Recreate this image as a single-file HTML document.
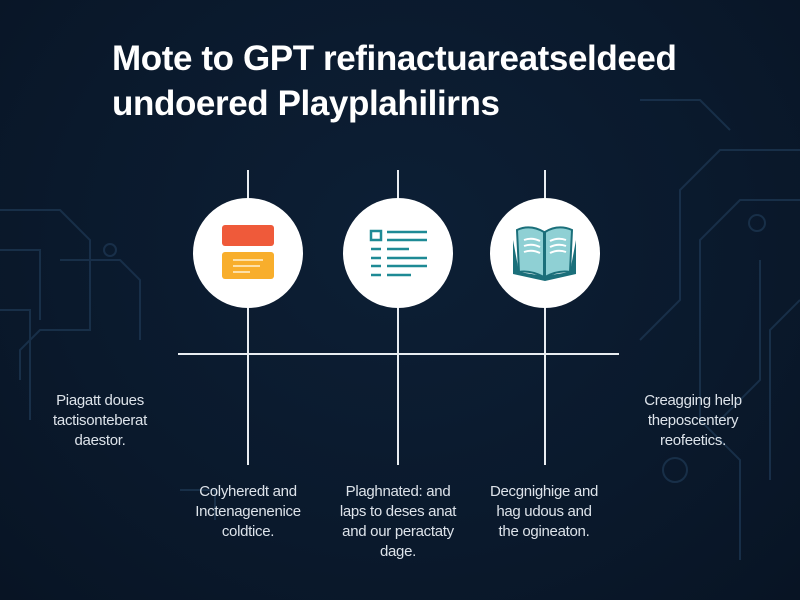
<!DOCTYPE html>
<html><head><meta charset="utf-8"><style>
html,body{margin:0;padding:0}
body{width:800px;height:600px;overflow:hidden;position:relative;background:radial-gradient(ellipse at 50% 40%,#0d1f35 0%,#0a192c 60%,#081424 100%);font-family:"Liberation Sans",sans-serif}
.t{position:absolute;left:112px;color:#fff;font-weight:bold;font-size:35px;letter-spacing:-0.4px;white-space:nowrap}
.p{position:absolute;color:#dde3ea;font-size:15px;line-height:20px;text-align:center;white-space:nowrap;letter-spacing:-0.3px}
</style></head><body>
<svg width="800" height="600" style="position:absolute;left:0;top:0">
 <g stroke="#1c3550" stroke-width="2" fill="none" opacity="0.8">
  <path d="M0 210 H60 L90 240 V330 H40 L20 350 V380"/>
  <path d="M0 250 H40 V320"/>
  <path d="M0 310 H30 V420"/>
  <path d="M60 260 H120 L140 280 V340"/>
  <circle cx="110" cy="250" r="6"/>
  <path d="M800 150 H720 L680 190 V300 L640 340"/>
  <path d="M800 200 H740 L700 240 V420 L740 460 V560"/>
  <path d="M760 260 V380 L720 420"/>
  <path d="M800 300 L770 330 V480"/>
  <circle cx="757" cy="223" r="8"/>
  <circle cx="675" cy="470" r="12"/>
  <path d="M640 100 H700 L730 130"/>
  <path d="M180 490 H215 L215 520"/>
 </g>
 <g stroke="#e9edf1" stroke-width="2">
  <line x1="178" y1="354" x2="619" y2="354"/>
  <line x1="248" y1="170" x2="248" y2="465"/>
  <line x1="398" y1="170" x2="398" y2="465"/>
  <line x1="545" y1="170" x2="545" y2="465"/>
 </g>
 <g fill="#fff">
  <circle cx="248" cy="253" r="55"/>
  <circle cx="398" cy="253" r="55"/>
  <circle cx="545" cy="253" r="55"/>
 </g>
 <rect x="222" y="225" width="52" height="21" rx="3" fill="#ef5a3a"/>
 <rect x="222" y="252" width="52" height="27" rx="3" fill="#f8ae2c"/>
 <g stroke="#fde0a8" stroke-width="2"><line x1="233" y1="260" x2="263" y2="260"/><line x1="233" y1="266" x2="260" y2="266"/><line x1="233" y1="272" x2="250" y2="272"/></g>
 <g stroke="#1e8a95" stroke-width="2.5" fill="none">
  <rect x="371" y="231" width="10" height="9"/>
  <line x1="387" y1="232" x2="427" y2="232"/><line x1="387" y1="240" x2="427" y2="240"/>
  <line x1="371" y1="249" x2="381" y2="249"/><line x1="387" y1="249" x2="409" y2="249"/>
  <line x1="371" y1="258" x2="381" y2="258"/><line x1="387" y1="258" x2="427" y2="258"/>
  <line x1="371" y1="266" x2="381" y2="266"/><line x1="387" y1="266" x2="427" y2="266"/>
  <line x1="371" y1="275" x2="381" y2="275"/><line x1="387" y1="275" x2="411" y2="275"/>
 </g>
 <path d="M513 240 L519 272 L544 276 L570 272 L576 240 L576 274 L545 281 L513 274Z" fill="#1b6f7a"/>
 <path d="M517 230 Q530 224 544 232 L544 277 Q530 270 519 272Z" fill="#8fd0d4" stroke="#1b6f7a" stroke-width="2"/>
 <path d="M572 230 Q558 224 545 232 L545 277 Q558 270 570 272Z" fill="#8fd0d4" stroke="#1b6f7a" stroke-width="2"/>
 <g stroke="#fff" stroke-width="2" fill="none">
  <path d="M524 240 Q532 237 540 241"/><path d="M524 246 Q532 243 540 247"/><path d="M524 252 Q532 249 540 253"/>
  <path d="M550 241 Q558 237 566 240"/><path d="M550 247 Q558 243 566 246"/><path d="M550 253 Q558 249 566 252"/>
 </g>
</svg>
<div class="t" style="top:39px">Mote to GPT refinactuareatseldeed</div>
<div class="t" style="top:84px">undoered Playplahilirns</div>
<div class="p" style="left:40px;top:391px;width:120px">Piagatt doues<br>tactisonteberat<br>daestor.</div>
<div class="p" style="left:180px;top:482px;width:136px">Colyheredt and<br>Inctenagenenice<br>coldtice.</div>
<div class="p" style="left:325px;top:482px;width:146px">Plaghnated: and<br>laps to deses anat<br>and our peractaty<br>dage.</div>
<div class="p" style="left:474px;top:482px;width:140px">Decgnighige and<br>hag udous and<br>the ogineaton.</div>
<div class="p" style="left:628px;top:391px;width:130px">Creagging help<br>theposcentery<br>reofeetics.</div>
</body></html>
